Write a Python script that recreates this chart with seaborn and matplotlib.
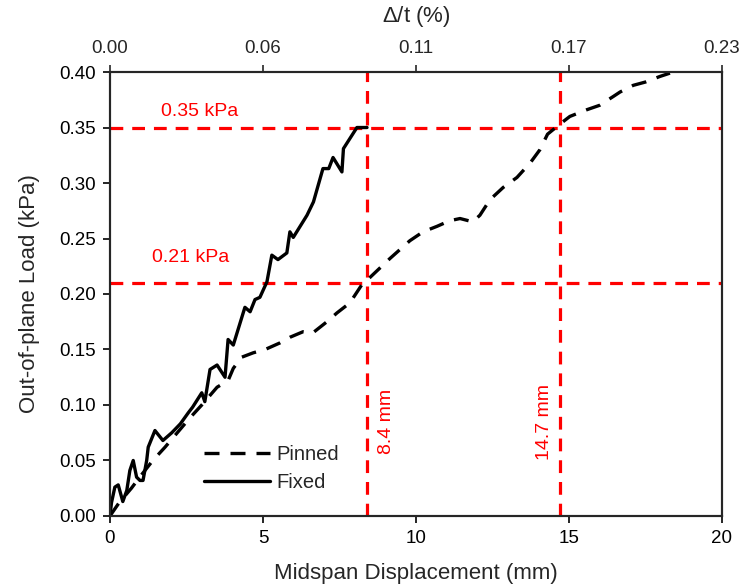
import matplotlib
matplotlib.use("Agg")
import matplotlib.pyplot as plt
import seaborn as sns
import pandas as pd

# Load-displacement data (mm, kPa)
fixed_x = [0, 0.05, 0.16, 0.27, 0.42, 0.55, 0.65, 0.76, 0.87, 0.98, 1.08, 1.2, 1.25,
           1.47, 1.73, 2.02, 2.3, 2.56, 2.7, 3.0, 3.1, 3.27, 3.5, 3.76, 3.86, 4.03,
           4.41, 4.58, 4.74, 4.9, 5.13, 5.29, 5.49, 5.78, 5.88, 5.99, 6.44, 6.65,
           6.96, 7.15, 7.29, 7.58, 7.63, 8.07, 8.4]
fixed_y = [0, 0.012, 0.026, 0.028, 0.013, 0.023, 0.041, 0.050, 0.035, 0.032, 0.032,
           0.050, 0.062, 0.077, 0.068, 0.075, 0.083, 0.093, 0.098, 0.111, 0.103,
           0.132, 0.136, 0.125, 0.159, 0.154, 0.188, 0.184, 0.195, 0.197, 0.211,
           0.235, 0.231, 0.237, 0.256, 0.251, 0.271, 0.283, 0.313, 0.313, 0.323,
           0.310, 0.331, 0.350, 0.350]

pinned_x = [0, 0.3, 0.7, 1.0, 1.4, 1.8, 2.2, 2.6, 3.0, 3.5, 3.86, 4.03, 4.3, 4.68,
            5.07, 5.56, 5.88, 6.31, 6.63, 7.09, 7.42, 7.84, 8.27, 8.5, 9.15, 9.8,
            10.23, 10.69, 11.1, 11.44, 11.86, 12.09, 12.42, 12.85, 13.3, 13.73,
            14.05, 14.3, 14.7, 15.03, 15.58, 16.0, 16.45, 16.67, 17.1, 17.5,
            17.97, 18.3]
pinned_y = [0, 0.012, 0.025, 0.036, 0.05, 0.062, 0.075, 0.088, 0.1, 0.116, 0.122,
            0.133, 0.143, 0.147, 0.150, 0.156, 0.161, 0.166, 0.165, 0.175, 0.183,
            0.192, 0.21, 0.215, 0.232, 0.248, 0.256, 0.261, 0.266, 0.268, 0.265,
            0.271, 0.285, 0.296, 0.305, 0.318, 0.330, 0.344, 0.353, 0.360, 0.366,
            0.370, 0.378, 0.382, 0.388, 0.391, 0.396, 0.399]

# Reference levels
load_levels = [0.35, 0.21]
load_labels = ["0.35 kPa", "0.21 kPa"]
disp_levels = [8.4, 14.7]
disp_labels = ["8.4 mm", "14.7 mm"]

# Secondary axis: drift ratio labels
top_ticks = [0, 5, 10, 15, 20]
top_labels = ["0.00", "0.06", "0.11", "0.17", "0.23"]

sns.set_style("ticks")
plt.rcParams["font.family"] = ["Liberation Sans", "DejaVu Sans"]
plt.rcParams["mathtext.fontset"] = "custom"
plt.rcParams["mathtext.it"] = "Liberation Sans:italic"
plt.rcParams["mathtext.rm"] = "Liberation Sans"

fig = plt.figure(figsize=(7.44, 5.87), dpi=100)
ax = fig.add_axes([0.1478, 0.121, 0.8226, 0.7563])

red = "#ff0000"
for lv in load_levels:
    ax.axhline(lv, color=red, lw=2.3, dashes=(4, 2.8), zorder=1)
for dv in disp_levels:
    ax.axvline(dv, color=red, lw=2.3, dashes=(4, 2.8), zorder=1)

pinned = pd.DataFrame({"x": pinned_x, "y": pinned_y})
fixed = pd.DataFrame({"x": fixed_x, "y": fixed_y})
sns.lineplot(data=pinned, x="x", y="y", ax=ax, sort=False, estimator=None,
             color="black", lw=2.4, label="Pinned", zorder=3)
sns.lineplot(data=fixed, x="x", y="y", ax=ax, sort=False, estimator=None,
             color="black", lw=2.4, label="Fixed", zorder=3)
ax.lines[-2].set_dashes((4.5, 3.3))

ax.set_xlim(0, 20)
ax.set_ylim(0, 0.40)
ax.set_xticks([0, 5, 10, 15, 20])
ax.set_yticks([0, 0.05, 0.10, 0.15, 0.20, 0.25, 0.30, 0.35, 0.40])
ax.set_yticklabels([f"{v:.2f}" for v in ax.get_yticks()])
ax.set_xlabel("Midspan Displacement (mm)", fontsize=16, labelpad=11.5)
ax.set_ylabel("Out-of-plane Load (kPa)", fontsize=16, labelpad=14)
ax.tick_params(axis="both", labelsize=13.5, direction="out", length=5, width=1.2,
               colors="black", pad=5)
for s in ax.spines.values():
    s.set_linewidth(1.5)
    s.set_color("black")

top = ax.twiny()
top.set_xlim(ax.get_xlim())
top.set_xticks(top_ticks)
top.set_xticklabels(top_labels)
top.tick_params(axis="x", labelsize=13.5, direction="out", length=5, width=1.2, pad=6)
top.set_xlabel(r"$\mathit{\Delta}$/t (%)", fontsize=16, labelpad=13)
for s in top.spines.values():
    s.set_linewidth(1.5)

ax.text(2.94, 0.3645, load_labels[0], color=red, fontsize=14, ha="center", va="center")
ax.text(2.63, 0.233, load_labels[1], color=red, fontsize=14, ha="center", va="center")
ax.text(9.05, 0.085, disp_labels[0], color=red, fontsize=14, ha="center", va="center",
        rotation=90)
ax.text(14.2, 0.085, disp_labels[1], color=red, fontsize=14, ha="center", va="center",
        rotation=90)

leg = ax.legend(loc="center left", bbox_to_anchor=(0.124, 0.107), frameon=False,
                fontsize=14.5, handlelength=3.3, handletextpad=0.3, labelspacing=0.45)

fig.savefig("out.png", dpi=100)
